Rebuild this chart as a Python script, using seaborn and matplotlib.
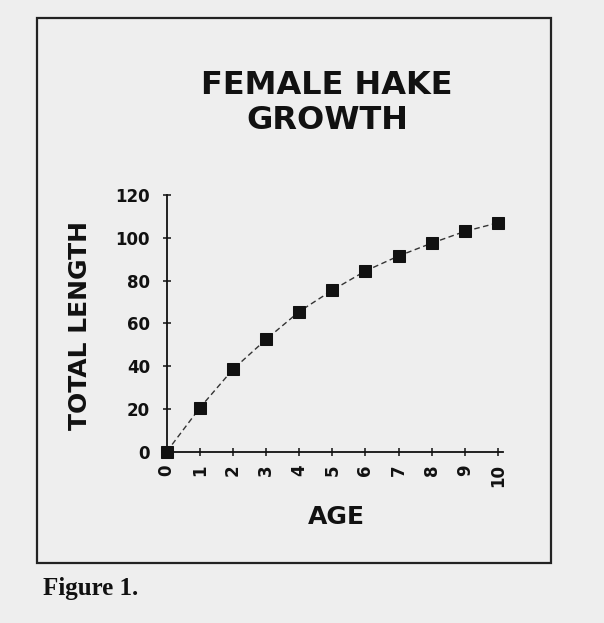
import matplotlib
matplotlib.use("Agg")
import matplotlib.pyplot as plt
import seaborn as sns
import pandas as pd
from matplotlib.patches import Rectangle

# values
ages = [0, 1, 2, 3, 4, 5, 6, 7, 8, 9, 10]
total_length = [0, 20.5, 38.5, 52.5, 65.5, 75.5, 84.5, 91.5, 97.5, 103, 107]
y_ticks = [0, 20, 40, 60, 80, 100, 120]

title_text = "FEMALE HAKE\nGROWTH"
x_label = "AGE"
y_label = "TOTAL LENGTH"
caption = "Figure 1."

paper = "#eeeeee"
ink = "#111111"


def main():
    sns.set_theme(style="ticks")
    plt.rcParams["font.family"] = ["DejaVu Sans"]

    df = pd.DataFrame({"age": ages, "length": total_length})

    fig = plt.figure(figsize=(6.04, 6.23), dpi=100, facecolor=paper)
    W, H = 604, 623
    # axes placed to match the scan (pixel measurements)
    x0, x1 = 166.7, 503.0
    y0, y1 = 451.7, 195.0
    ax = fig.add_axes([x0 / W, 1 - y0 / H, (x1 - x0) / W, (y0 - y1) / H])
    ax.set_facecolor("none")

    sns.lineplot(data=df, x="age", y="length", ax=ax, color="#333333",
                 linewidth=1.0, linestyle=(0, (4, 2.5)), marker="s",
                 markersize=9, markerfacecolor=ink, markeredgecolor=ink,
                 clip_on=False, zorder=5)

    ax.set_xlim(0, 10.15)
    ax.set_ylim(0, 120)
    ax.set_xticks(ages)
    ax.set_yticks(y_ticks)
    ax.set_xticklabels([str(a) for a in ages], rotation=90,
                       fontsize=12, fontweight="bold", color=ink)
    ax.set_yticklabels([str(v) for v in y_ticks],
                       fontsize=12, fontweight="bold", color=ink)
    ax.tick_params(axis="both", direction="inout", length=6, width=1.1,
                   color=ink)
    ax.tick_params(axis="x", pad=6)
    ax.tick_params(axis="y", pad=9)

    sns.despine(ax=ax)
    for s in ["left", "bottom"]:
        ax.spines[s].set_color(ink)
        ax.spines[s].set_linewidth(1.3)

    ax.set_xlabel(x_label, fontsize=18, fontweight="bold", color=ink,
                  va="center")
    ax.xaxis.set_label_coords((336 - x0) / (x1 - x0), (y0 - 516.5) / (y0 - y1))
    ax.set_ylabel(y_label, fontsize=18, fontweight="bold", color=ink,
                  va="center")
    ax.yaxis.set_label_coords((80 - x0) / (x1 - x0), (y0 - 325) / (y0 - y1))

    # title
    fig.text(327 / W, 1 - 103 / H, title_text, ha="center", va="center",
             fontsize=23, fontweight="bold", color=ink, linespacing=1.15)

    # frame around the figure
    fig.add_artist(Rectangle((37 / W, 1 - 563 / H), (551 - 37) / W,
                             (563 - 18) / H, transform=fig.transFigure,
                             fill=False, edgecolor="#222222", linewidth=1.6))

    fig.text(43 / W, 1 - 595 / H, caption, ha="left", va="baseline",
             fontsize=18, fontweight="bold", color=ink,
             family=["Liberation Serif", "DejaVu Serif"])

    fig.savefig("out.png", dpi=100, facecolor=paper)
    plt.close(fig)


if __name__ == "__main__":
    main()
